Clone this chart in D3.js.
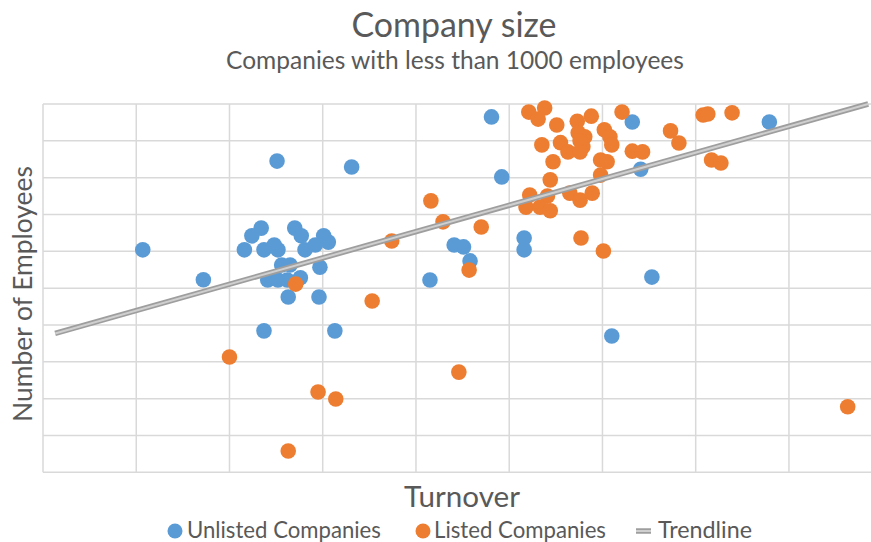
<!DOCTYPE html>
<html>
<head>
<meta charset="utf-8">
<script src="https://cdn.jsdelivr.net/npm/d3@7"></script>
<style>
  html, body { margin: 0; padding: 0; background: #fff; }
  svg text { font-family: Lato, "Open Sans", sans-serif; fill: #595959; }
</style>
</head>
<body>
<div id="chart"></div>
<script>
// turnover (x) and number of employees (y)
const unlistedX = [107, 172, 216, 224, 234, 237, 248, 252, 241, 252, 262, 256, 265, 276, 263, 270, 277, 281, 292, 301, 306, 297, 296, 237, 313, 251, 331, 415, 441, 451, 458, 481, 492, 516, 516, 610, 632, 641, 653, 779]
const unlistedY = [604, 523, 604, 642, 663, 604, 617, 604, 522, 522, 522, 563, 563, 528, 476, 663, 642, 604, 617, 642, 625, 557, 476, 384, 384, 845, 829, 522, 617, 612, 574, 965, 802, 636, 604, 370, 951, 823, 530, 951]

const listedX = [521, 538, 531, 551, 573, 588, 574, 581, 579, 576, 535, 555, 563, 576, 547, 602, 608, 610, 621, 632, 643, 673, 682, 708, 713, 739, 717, 727, 598, 605, 598, 544, 522, 541, 565, 576, 589, 518, 533, 544, 416, 429, 470, 374, 457, 577, 601, 353, 271, 200, 446, 295, 314, 263, 863]
const listedY = [978, 989, 959, 943, 953, 967, 922, 911, 884, 900, 889, 895, 870, 870, 843, 930, 911, 889, 978, 872, 870, 927, 894, 970, 973, 976, 848, 840, 848, 843, 807, 794, 753, 750, 758, 739, 758, 720, 720, 710, 737, 680, 666, 628, 549, 636, 601, 465, 511, 313, 272, 218, 199, 58, 178]

const trendX = [13, 885]
const trendY = [377, 1000]

const xTicks = [0, 100, 200, 300, 400, 500, 600, 700, 800]
const yTicks = [0, 100, 200, 300, 400, 500, 600, 700, 800, 900, 1000]

const W = 871, H = 542
const margin = { top: 104, right: 0, bottom: 70, left: 43 }
const blue = '#5b9bd5', orange = '#ed7d31', grid = '#d9d9d9'

const svg = d3.select('#chart').append('svg')
  .attr('width', W).attr('height', H)

const x = d3.scaleLinear().domain([0, 888]).range([margin.left, W - margin.right])
const y = d3.scaleLinear().domain([0, 1000]).range([H - margin.bottom + 0.3, margin.top])

// gridlines
svg.append('g').selectAll('line').data(xTicks).join('line')
  .attr('x1', d => x(d)).attr('x2', d => x(d))
  .attr('y1', y(0)).attr('y2', y(1000))
  .attr('stroke', grid).attr('stroke-width', 1.5)
svg.append('g').selectAll('line').data(yTicks).join('line')
  .attr('x1', x(0)).attr('x2', W)
  .attr('y1', d => y(d)).attr('y2', d => y(d))
  .attr('stroke', grid).attr('stroke-width', 1.5)

// points
const pts = svg.append('g')
pts.selectAll('.u').data(d3.zip(unlistedX, unlistedY)).join('circle')
  .attr('class', 'u')
  .attr('cx', d => x(d[0])).attr('cy', d => y(d[1])).attr('r', 7.8)
  .attr('fill', blue)
pts.selectAll('.l').data(d3.zip(listedX, listedY)).join('circle')
  .attr('class', 'l')
  .attr('cx', d => x(d[0])).attr('cy', d => y(d[1])).attr('r', 7.8)
  .attr('fill', orange)

// trendline (double line look)
const line = d3.line().x(d => x(d[0])).y(d => y(d[1]))
const trend = d3.zip(trendX, trendY)
svg.append('path').datum(trend).attr('d', line)
  .attr('fill', 'none').attr('stroke', '#9e9e9e').attr('stroke-width', 5.5)
svg.append('path').datum(trend).attr('d', line)
  .attr('fill', 'none').attr('stroke', '#cfcfcf').attr('stroke-width', 2)

// text helper: scale font so the string fills a given width
function fit(t, width) {
  const len = t.node().getComputedTextLength()
  const fs = parseFloat(t.attr('font-size'))
  t.attr('font-size', fs * width / len)
  return t
}

fit(svg.append('text').attr('x', 454).attr('y', 37).attr('text-anchor', 'middle')
  .attr('font-size', 30).text('Company size'), 205)
fit(svg.append('text').attr('x', 455).attr('y', 69).attr('text-anchor', 'middle')
  .attr('font-size', 20).text('Companies with less than 1000 employees'), 458)
fit(svg.append('text').attr('x', 462).attr('y', 507).attr('text-anchor', 'middle')
  .attr('font-size', 24).text('Turnover'), 116)
fit(svg.append('text').attr('transform', 'translate(32,294) rotate(-90)')
  .attr('text-anchor', 'middle').attr('font-size', 24).text('Number of Employees'), 256)

// legend
const lg = svg.append('g')
lg.append('circle').attr('cx', 175).attr('cy', 531).attr('r', 7.5).attr('fill', blue)
fit(lg.append('text').attr('x', 187).attr('y', 538).attr('font-size', 19).text('Unlisted Companies'), 194)
lg.append('circle').attr('cx', 423).attr('cy', 531).attr('r', 7.5).attr('fill', orange)
fit(lg.append('text').attr('x', 434).attr('y', 538).attr('font-size', 19).text('Listed Companies'), 172)
lg.append('line').attr('x1', 636).attr('x2', 651).attr('y1', 531).attr('y2', 531)
  .attr('stroke', '#9e9e9e').attr('stroke-width', 5.5)
lg.append('line').attr('x1', 636).attr('x2', 651).attr('y1', 531).attr('y2', 531)
  .attr('stroke', '#cfcfcf').attr('stroke-width', 2)
fit(lg.append('text').attr('x', 658).attr('y', 538).attr('font-size', 19).text('Trendline'), 94)
</script>
</body>
</html>
